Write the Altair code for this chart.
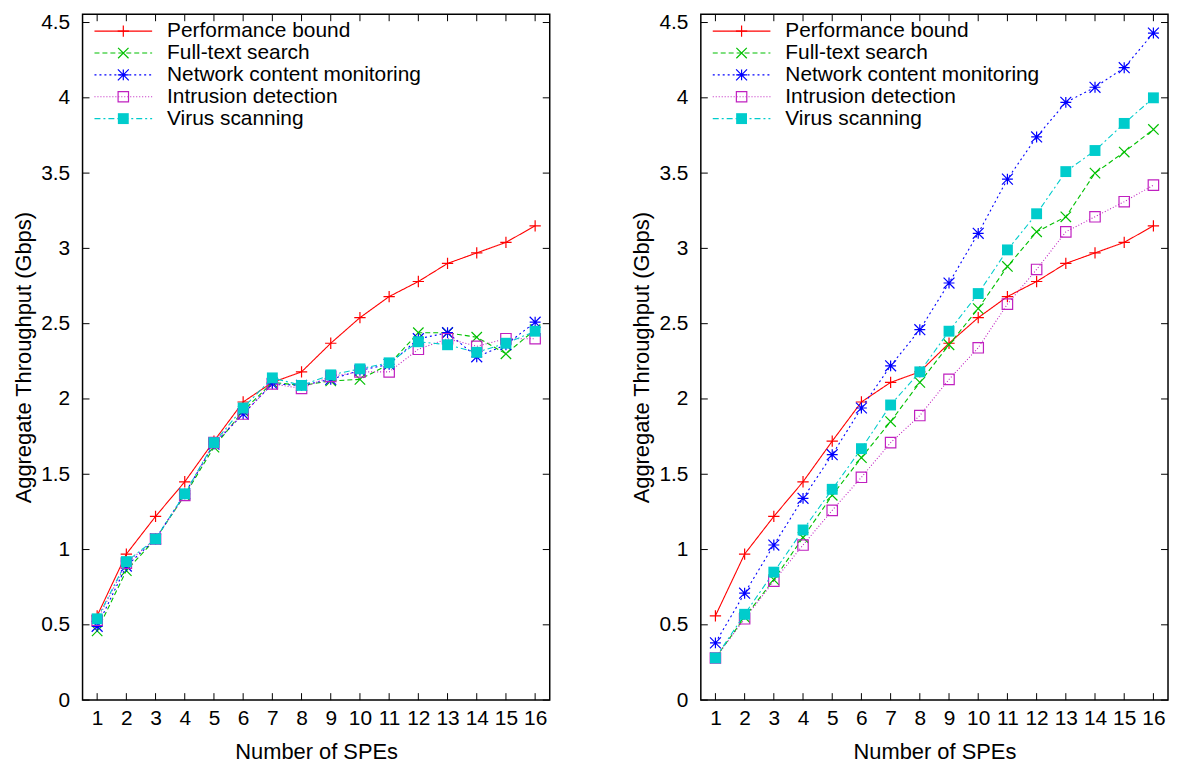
import altair as alt
import pandas as pd

spes = list(range(1, 17))
series_names = ["Performance bound", "Full-text search", "Network content monitoring",
                "Intrusion detection", "Virus scanning"]

perf = [0.56, 0.97, 1.22, 1.45, 1.72, 1.98, 2.11, 2.18, 2.37, 2.54, 2.68, 2.78, 2.90, 2.97, 3.04, 3.15]

full_left = [0.46, 0.86, 1.07, 1.36, 1.68, 1.92, 2.11, 2.09, 2.12, 2.13, 2.23, 2.44, 2.44, 2.41, 2.30, 2.46]
net_left = [0.49, 0.89, 1.07, 1.37, 1.70, 1.90, 2.10, 2.09, 2.13, 2.19, 2.23, 2.40, 2.44, 2.28, 2.36, 2.51]
intr_left = [0.53, 0.91, 1.07, 1.36, 1.71, 1.90, 2.10, 2.07, 2.15, 2.18, 2.18, 2.33, 2.40, 2.35, 2.40, 2.40]
virus_left = [0.54, 0.92, 1.07, 1.37, 1.71, 1.94, 2.14, 2.09, 2.16, 2.20, 2.24, 2.38, 2.36, 2.31, 2.37, 2.45]

full_right = [0.28, 0.55, 0.80, 1.08, 1.36, 1.61, 1.85, 2.11, 2.36, 2.60, 2.88, 3.11, 3.21, 3.50, 3.64, 3.79]
net_right = [0.38, 0.71, 1.03, 1.34, 1.63, 1.94, 2.22, 2.46, 2.77, 3.10, 3.46, 3.74, 3.97, 4.07, 4.20, 4.43]
intr_right = [0.28, 0.54, 0.79, 1.03, 1.26, 1.48, 1.71, 1.89, 2.13, 2.34, 2.63, 2.86, 3.11, 3.21, 3.31, 3.42]
virus_right = [0.28, 0.57, 0.85, 1.13, 1.40, 1.67, 1.96, 2.18, 2.45, 2.70, 2.99, 3.23, 3.51, 3.65, 3.83, 4.00]

y_ticks = [0, 0.5, 1, 1.5, 2, 2.5, 3, 3.5, 4, 4.5]
x_ticks = spes

W = 470
H = 690
FONT = "Liberation Sans"
FS_TICK = 21
FS = 22
FS_LEG = 21

PLUS = "M-1,0L1,0M0,-1L0,1"
XMARK = "M-1,-1L1,1M-1,1L1,-1"
STAR = "M-1,0L1,0M0,-1L0,1M-1,-1L1,1M-1,1L1,-1"

styles = [
    dict(color="#ff0000", dash=[1, 0], shape=PLUS, filled=False, size=130),
    dict(color="#00c000", dash=[5, 3], shape=XMARK, filled=False, size=110),
    dict(color="#0000ff", dash=[2, 3], shape=STAR, filled=False, size=120),
    dict(color="#c020c0", dash=[1, 2], shape="square", filled=False, size=110),
    dict(color="#00cccc", dash=[6, 3, 2, 3], shape="square", filled=True, size=120),
]

x_scale = alt.Scale(domain=[0.5, 16.5], nice=False, zero=False)
y_scale = alt.Scale(domain=[0, 4.555], nice=False, zero=False)
x_axis = alt.Axis(values=x_ticks, title="Number of SPEs", format="d", labelOverlap=False)
y_axis = alt.Axis(values=y_ticks, title="Aggregate Throughput (Gbps)", format="~g",
                  labelOverlap=False)


def panel(values_list):
    rows = []
    for name, vals in zip(series_names, values_list):
        for s, v in zip(spes, vals):
            rows.append({"series": name, "spe": s, "thr": v})
    df = pd.DataFrame(rows)

    x_enc = alt.X("spe:Q", scale=x_scale, axis=x_axis)
    y_enc = alt.Y("thr:Q", scale=y_scale, axis=y_axis)

    layers = []
    for i, (name, st) in enumerate(zip(series_names, styles)):
        sub = df[df.series == name]
        line = alt.Chart(sub).mark_line(color=st["color"], strokeDash=st["dash"],
                                        strokeWidth=1.1).encode(x=x_enc, y=y_enc)
        pts = alt.Chart(sub).mark_point(shape=st["shape"], size=st["size"],
                                        filled=st["filled"], color=st["color"],
                                        strokeWidth=1.2, opacity=1).encode(x=x_enc, y=y_enc)
        layers += [line, pts]

    # inward tick marks (gnuplot style, mirrored)
    yt = pd.DataFrame({"v": y_ticks})
    xt = pd.DataFrame({"v": x_ticks})
    yv = alt.Y("v:Q", scale=y_scale, axis=y_axis)
    xv = alt.X("v:Q", scale=x_scale, axis=x_axis)
    layers.append(alt.Chart(yt).mark_rule(color="black", strokeWidth=1).encode(
        y=yv, x=alt.value(0), x2=alt.value(7)))
    layers.append(alt.Chart(yt).mark_rule(color="black", strokeWidth=1).encode(
        y=yv, x=alt.value(W - 7), x2=alt.value(W)))
    layers.append(alt.Chart(xt).mark_rule(color="black", strokeWidth=1).encode(
        x=xv, y=alt.value(H - 7), y2=alt.value(H)))
    layers.append(alt.Chart(xt).mark_rule(color="black", strokeWidth=1).encode(
        x=xv, y=alt.value(0), y2=alt.value(7)))

    # in-plot legend
    for i, (name, st) in enumerate(zip(series_names, styles)):
        py = 17 + 22 * i
        ldf = pd.DataFrame({"series": [name]})
        layers.append(alt.Chart(ldf).mark_rule(color=st["color"], strokeDash=st["dash"],
                                               strokeWidth=1.1).encode(
            x=alt.value(12), x2=alt.value(70), y=alt.value(py)))
        layers.append(alt.Chart(ldf).mark_point(shape=st["shape"], size=st["size"],
                                                filled=st["filled"], color=st["color"],
                                                strokeWidth=1.2, opacity=1).encode(
            x=alt.value(41), y=alt.value(py)))
        layers.append(alt.Chart(ldf).mark_text(align="left", baseline="middle", font=FONT,
                                               fontSize=FS_LEG, color="black").encode(
            x=alt.value(85), y=alt.value(py), text="series:N"))

    return alt.layer(*layers).properties(width=W, height=H)


left = panel([perf, full_left, net_left, intr_left, virus_left])
right = panel([perf, full_right, net_right, intr_right, virus_right])

chart = alt.hconcat(left, right, spacing=79).properties(
    padding={"left": 4, "top": 0, "right": 0, "bottom": 0}
).configure_view(
    stroke="black", strokeWidth=1.5
).configure_axis(
    domain=False, grid=False, tickSize=0, labelFont=FONT, titleFont=FONT,
    labelFontSize=FS_TICK, titleFontSize=FS, labelColor="black", titleColor="black",
    titleFontWeight="normal", labelOverlap=False
).configure_axisX(labelPadding=8, titlePadding=13).configure_axisY(
    labelPadding=13, titlePadding=5
)

chart.save("out.html", embed_options={"renderer": "svg", "actions": False})
